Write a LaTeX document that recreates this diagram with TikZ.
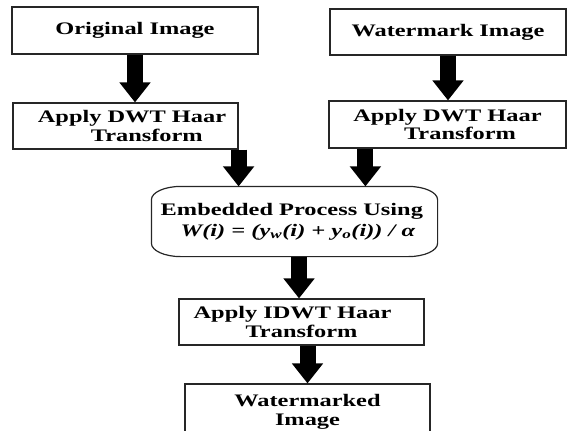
\documentclass[tikz,border=0pt]{standalone}
\usepackage{fontspec}
\setmainfont{Liberation Serif}[FakeStretch=1.385]
\usetikzlibrary{arrows.meta}

\tikzset{
	box/.style={rectangle, draw=black!85, line width=0.9pt, align=center,
		inner sep=0pt, font=\fontsize{13.2pt}{14pt}\selectfont\bfseries},
	flowarrow/.style={line width=12pt, -{Triangle[width=22.5pt,length=15pt]}}
}

\begin{document}
\begin{tikzpicture}[x=0.75pt,y=-0.75pt]
				\useasboundingbox (0,0) rectangle (567,430);
				\clip (0,0) rectangle (567,430);
				% top row
				\node[box, minimum width=184.5pt, minimum height=35.25pt] (orig) at (135,30.5) {Original Image};
				\node[box, minimum width=177pt, minimum height=34.5pt] (wm) at (448,32) {Watermark Image};
				\node[box, minimum width=168.75pt, minimum height=34.5pt] (dwtA) at (125.5,126)
					{\hspace*{9.75pt}Apply DWT Haar\\\hspace*{32pt}Transform};
				\node[box, minimum width=177.75pt, minimum height=35.25pt] (dwtB) at (447.5,124.5)
					{Apply DWT Haar\\\hspace*{18.75pt}Transform};
				% embedding step
				\node[box, draw=none, minimum width=213.75pt, minimum height=51.75pt] (embed) at (294.5,221.5)
					{Embedded Process Using\hspace*{4pt}\\[1.5pt] \hspace*{5pt}{\itshape W(i) = (y\textsubscript{w}(i) + y\textsubscript{o}(i)) / α}};
				\draw[draw=black!85, line width=0.9pt] ([xshift=22pt]embed.north west) -- ([xshift=-22pt]embed.north east)
					arc[start angle=90, end angle=0, x radius=22pt, y radius=10pt] -- ([yshift=10pt]embed.south east)
					arc[start angle=0, end angle=-90, x radius=22pt, y radius=10pt] -- ([xshift=22pt]embed.south west)
					arc[start angle=270, end angle=180, x radius=22pt, y radius=10pt] -- ([yshift=-10pt]embed.north west)
					arc[start angle=180, end angle=90, x radius=22pt, y radius=10pt] -- cycle;
				\node[box, minimum width=183.75pt, minimum height=34.5pt] (idwt) at (301.5,322)
					{Apply IDWT Haar\hspace*{13.5pt}\\Transform};
				\node[box, minimum width=183.75pt, minimum height=42pt] (marked) at (307.5,412) {Watermarked\\Image};
				% arrows
				\draw[flowarrow] (orig.south) -- (orig.south |- dwtA.north);
				\draw[flowarrow] (wm.south) -- (wm.south |- dwtB.north);
				\draw[flowarrow] (dwtA.south east) -- (dwtA.south east |- embed.north);
				\draw[flowarrow] ([xshift=27.75pt]dwtB.south west) -- ([xshift=27.75pt]dwtB.south west |- embed.north);
				\draw[flowarrow] ([xshift=3.4pt]embed.south) -- ([xshift=3.4pt]embed.south |- idwt.north);
				\draw[flowarrow] (idwt.south -| marked.north) -- (marked.north);
			\end{tikzpicture}
\end{document}
